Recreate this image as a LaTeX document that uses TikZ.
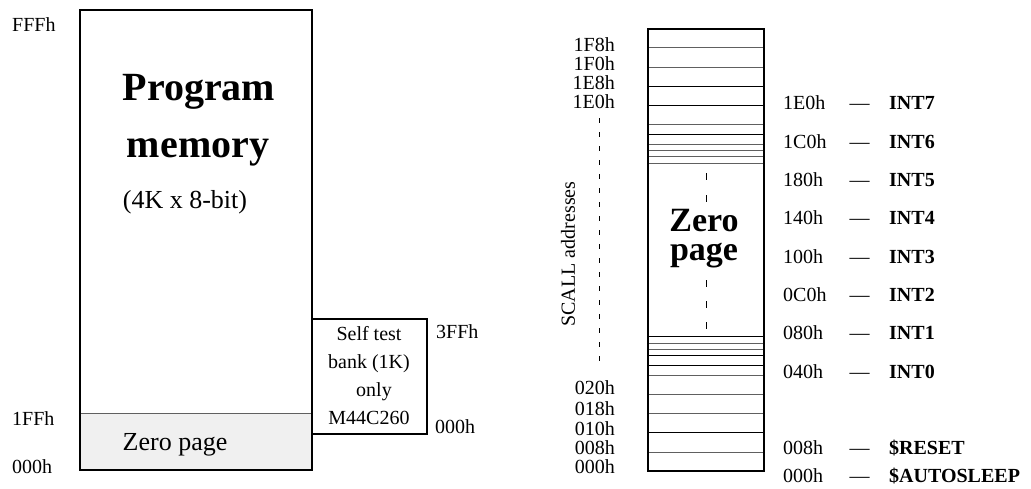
\documentclass[tikz,border=0pt]{standalone}
\usepackage{fontspec}
\setmainfont{Liberation Serif}
\begin{document}
\begin{tikzpicture}[x=1pt,y=-1pt,
  addr/.style={font=\fontsize{20}{24}\selectfont, inner sep=0pt},
  addrL/.style={addr, anchor=base west},
  addrR/.style={addr, anchor=base east},
  intname/.style={font=\fontsize{20}{24}\selectfont\bfseries, inner sep=0pt, anchor=base west},
  dashlbl/.style={font=\fontsize{20}{24}\selectfont, inner sep=0pt, anchor=base},
  bigbold/.style={font=\fontsize{40}{44}\selectfont\bfseries, inner sep=0pt, anchor=base},
  midbold/.style={font=\fontsize{34}{29}\selectfont\bfseries, inner sep=0pt, align=center},
  frame/.style={draw=black, line width=2.4pt},
  grayline/.style={draw=gray!75!black, line width=1pt},
  blackline/.style={draw=black, line width=1pt}]
\useasboundingbox (0,0) rectangle (1031,488);

% ---------------- left: program memory ----------------
\fill[gray!12] (79,413) rectangle (311,469);
\draw[grayline] (79,413) -- (311,413);
\node[frame, rectangle, inner sep=0pt, minimum width=232pt, minimum height=460pt, anchor=north west] (pm) at (79,9) {};
\node[frame, line width=2pt, rectangle, inner sep=0pt, minimum width=115pt, minimum height=115pt, anchor=north west] (st) at (311,318) {};

\node[bigbold] (prog) at (199,100) {Program};
\node[bigbold] (mem) at (198,157) {memory};
\node[font=\fontsize{26}{30}\selectfont, inner sep=0pt, anchor=base] (size) at (185,208) {(4K x 8-bit)};
\node[font=\fontsize{26}{30}\selectfont, inner sep=0pt, anchor=base] (zpl) at (175,450) {Zero page};

\node[font=\fontsize{20}{28}\selectfont, align=center, inner sep=0pt] (sttext) at (369,376) {Self test\\bank (1K)\\\ \ only\\M44C260};

\node[addrL] (fff) at (12,31) {FFFh};
\node[addrL] (a1ff) at (12,425) {1FFh};
\node[addrL] (a000) at (12,473) {000h};
\node[addrL] (a3ff) at (436,338) {3FFh};
\node[addrL] (b000) at (435,433) {000h};

% ---------------- right: zero page ----------------
\foreach \y in {47.7,67,124.3,144.3,150.7,156.7,163.3,343.3,349,375,394,413.3,452.7}
  \draw[grayline] (647,\y) -- (763,\y);
\foreach \y in {86.3,105.3,134.3,336.7,355.3,365.3,432.3}
  \draw[blackline] (647,\y) -- (763,\y);
\node[frame, rectangle, inner sep=0pt, minimum width=116pt, minimum height=442pt, anchor=north west] (zpc) at (647,28) {};

\node[midbold, anchor=base] (zerop) at (704,260) {Zero\\page};
\coordinate (d1a) at (706,173);
\coordinate (d1b) at (706,204);
\coordinate (d2a) at (706,280);
\coordinate (d2b) at (706,329);
\draw[line width=1pt, dash pattern=on 7pt off 15pt] (d1a) -- (d1b);
\draw[line width=1pt, dash pattern=on 7pt off 14pt] (d2a) -- (d2b);

% left addresses
\node[addrR] (l1f8) at (615,51) {1F8h};
\node[addrR] (l1f0) at (615,70) {1F0h};
\node[addrR] (l1e8) at (615,89) {1E8h};
\node[addrR] (l1e0) at (615,108) {1E0h};
\node[addrR] (l020) at (615,394) {020h};
\node[addrR] (l018) at (615,415) {018h};
\node[addrR] (l010) at (615,435) {010h};
\node[addrR] (l008) at (615,454) {008h};
\node[addrR] (l000) at (615,473) {000h};
\coordinate (sa) at (599,118);
\coordinate (sb) at (599,368);
\draw[line width=1pt, dash pattern=on 5pt off 9pt] (sa) -- (sb);
\node[addr, rotate=90] (scall) at (568,254) {SCALL addresses};

% right addresses
\foreach \a/\n/\yy [count=\i] in {1E0h/INT7/109, 1C0h/INT6/148, 180h/INT5/186, 140h/INT4/224, 100h/INT3/263, 0C0h/INT2/301, 080h/INT1/339, 040h/INT0/378, 008h/\$RESET/454, 000h/\$AUTOSLEEP/482}{
  \node[addrL] (ra\i) at (783,\yy) {\a};
  \node[dashlbl] (rd\i) at (859.5,\yy) {---};
  \node[intname] (rn\i) at (889,\yy) {\n};
}
\end{tikzpicture}
\end{document}
